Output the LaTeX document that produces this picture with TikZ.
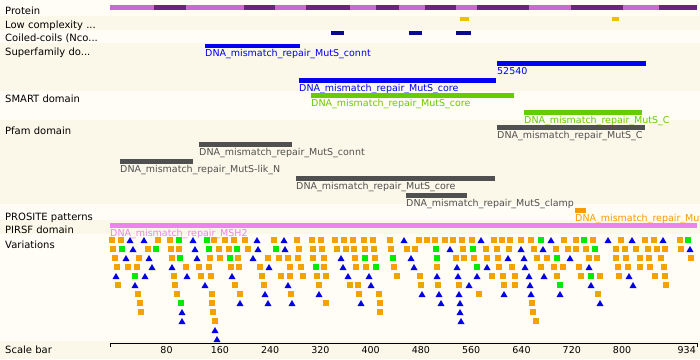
\documentclass[tikz,border=0pt]{standalone}
\usepackage{fontspec}
\setmainfont{DejaVu Sans}
\definecolor{bglight}{RGB}{255,253,246}
\definecolor{bgdark}{RGB}{252,248,233}
\definecolor{protlight}{RGB}{204,102,221}
\definecolor{protdark}{RGB}{102,36,136}
\definecolor{lowcx}{RGB}{240,192,0}
\definecolor{coil}{RGB}{10,10,140}
\definecolor{sfam}{RGB}{0,0,245}
\definecolor{smart}{RGB}{102,204,0}
\definecolor{pfam}{RGB}{80,80,80}
\definecolor{prosite}{RGB}{255,153,0}
\definecolor{pirsf}{RGB}{238,130,238}
\definecolor{varorange}{RGB}{242,163,0}
\definecolor{vargreen}{RGB}{0,235,0}
\definecolor{varblue}{RGB}{0,0,230}
\newcommand\DomBar[6]{%
  \fill[#5] (#2,#4) rectangle (#3,#4+4.5);
  \node[domlabel,text=#5] (#1) at (#2,#4+13) {#6};}
\begin{document}
\begin{tikzpicture}[x=1bp,y=-1bp,
  rowlabel/.style={anchor=base west,inner sep=0pt,font=\fontsize{10bp}{12bp}\selectfont,text=black},
  domlabel/.style={anchor=base west,inner sep=0pt,font=\fontsize{9.5bp}{11bp}\selectfont},
  scalelabel/.style={anchor=base west,inner sep=0pt,font=\fontsize{9.5bp}{11bp}\selectfont,text=black}]
\useasboundingbox (0,0) rectangle (700,359);
\clip (0,0) rectangle (700,359);
% background bands
\fill[bglight] (0,0) rectangle (700,16);
\fill[bgdark] (0,16) rectangle (700,30);
\fill[bglight] (0,30) rectangle (700,43);
\fill[bgdark] (0,43) rectangle (700,91);
\fill[bglight] (0,91) rectangle (700,120);
\fill[bgdark] (0,120) rectangle (700,204);
\fill[bglight] (0,204) rectangle (700,220);
\fill[bgdark] (0,220) rectangle (700,234);
\fill[bglight] (0,234) rectangle (700,341);
\fill[bgdark] (0,341) rectangle (700,359);
% row labels
\node[rowlabel] (lProt) at (5,14) {Protein};
\node[rowlabel] (lLow) at (5,28.5) {Low complexity ...};
\node[rowlabel] (lCoil) at (5,41.5) {Coiled-coils (Nco...};
\node[rowlabel] (lSup) at (5,55) {Superfamily do...};
\node[rowlabel] (lSmart) at (5,102.7) {SMART domain};
\node[rowlabel] (lPfam) at (5,134) {Pfam domain};
\node[rowlabel] (lPros) at (5,220) {PROSITE patterns};
\node[rowlabel] (lPirsf) at (5,233) {PIRSF domain};
\node[rowlabel] (lVar) at (5,248) {Variations};
\node[rowlabel] (lScale) at (5,353) {Scale bar};
% protein bar
\fill[protlight] (110,5) rectangle (697,9.5);
\foreach \a/\b in {154/186,244/275,306/350,376/399,425/456,477/529,571/623,659/697}
  {\fill[protdark] (\a,5) rectangle (\b,9.5);}
% low complexity
\fill[lowcx] (460,17) rectangle (469,21.3);
\fill[lowcx] (612,17) rectangle (619,21.3);
% coiled coils
\fill[coil] (331,31) rectangle (344,35.3);
\fill[coil] (409,31) rectangle (422,35.3);
\fill[coil] (456,31) rectangle (471,35.3);
% superfamily
\DomBar{sf1}{205}{300}{43.7}{sfam}{DNA\_mismatch\_repair\_MutS\_connt}
\DomBar{sf2}{497}{646}{61}{sfam}{52540}
\DomBar{sf3}{299}{496}{78}{sfam}{DNA\_mismatch\_repair\_MutS\_core}
% SMART
\DomBar{sm1}{311}{514}{93}{smart}{DNA\_mismatch\_repair\_MutS\_core}
\DomBar{sm2}{524}{642}{110}{smart}{DNA\_mismatch\_repair\_MutS\_C}
% Pfam
\DomBar{pf1}{497}{645}{125}{pfam}{DNA\_mismatch\_repair\_MutS\_C}
\DomBar{pf2}{199}{292}{142.3}{pfam}{DNA\_mismatch\_repair\_MutS\_connt}
\DomBar{pf3}{120}{193}{159.3}{pfam}{DNA\_mismatch\_repair\_MutS-lik\_N}
\DomBar{pf4}{296}{495}{176.3}{pfam}{DNA\_mismatch\_repair\_MutS\_core}
\DomBar{pf5}{406}{467}{193}{pfam}{DNA\_mismatch\_repair\_MutS\_clamp}
% PROSITE
\DomBar{ps1}{575}{586}{208}{prosite}{DNA\_mismatch\_repair\_MutS\_family}
% PIRSF
\DomBar{pi1}{110}{697}{223}{pirsf}{DNA\_mismatch\_repair\_MSH2}
% variations: row 1
\foreach \vx in {112,121,158,170,214,225,234,245,274,297,312,321,335,344,353,364,373,390,419,427,435,445,453,462,472,494,502,510,521,531,564,576,593,621,645,654,680}
  {\fill[varorange] (\vx-3,237) rectangle ++(6,6);}
\foreach \vx in {179,207,541,584,688}
  {\fill[vargreen] (\vx-3,237) rectangle ++(6,6);}
\foreach \vx in {130,144,193,257,284,404,481,551,608,632,663}
  {\fill[varblue] (\vx-3.5,243) -- (\vx+3.5,243) -- (\vx,237) -- cycle;}
% row 2
\foreach \vx in {113,148,171,179,219,229,248,299,313,322,337,346,354,365,374,391,407,415,463,486,497,509,534,556,568,576,586,616,625,636,648,657,665,681}
  {\fill[varorange] (\vx-3,246) rectangle ++(6,6);}
\foreach \vx in {122,156,209,237,276,436,473,595}
  {\fill[vargreen] (\vx-3,246) rectangle ++(6,6);}
\foreach \vx in {133,195,258,285,450,521,543,690}
  {\fill[varblue] (\vx-3.5,252) -- (\vx+3.5,252) -- (\vx,246) -- cycle;}
% row 3
\foreach \vx in {115,139,172,210,220,238,268,279,288,298,313,324,355,375,456,464,474,487,498,537,547,589,597,616,626,640,649,661,691}
  {\fill[varorange] (\vx-3,255) rectangle ++(6,6);}
\foreach \vx in {180,230,365,393,437,557}
  {\fill[vargreen] (\vx-3,255) rectangle ++(6,6);}
\foreach \vx in {126,149,197,253,341,411,508,524,570}
  {\fill[varblue] (\vx-3.5,261) -- (\vx+3.5,261) -- (\vx,255) -- cycle;}
% row 4
\foreach \vx in {117,128,137,186,199,209,231,239,260,290,301,324,356,366,394,437,499,512,541,554,563,579,618,628,640,650,664}
  {\fill[varorange] (\vx-3,264) rectangle ++(6,6);}
\foreach \vx in {316,376,477}
  {\fill[vargreen] (\vx-3,264) rectangle ++(6,6);}
\foreach \vx in {152,172,269,343,414,457,487,525,589}
  {\fill[varblue] (\vx-3.5,270) -- (\vx+3.5,270) -- (\vx,264) -- cycle;}
% row 5
\foreach \vx in {174,201,211,262,281,290,303,317,326,397,420,492,503,515,557,581,600,619,655,665}
  {\fill[varorange] (\vx-3,273) rectangle ++(6,6);}
\foreach \vx in {135,591}
  {\fill[vargreen] (\vx-3,273) rectangle ++(6,6);}
\foreach \vx in {116,145,187,232,348,369,437,458,477,529,544,629}
  {\fill[varblue] (\vx-3.5,279) -- (\vx+3.5,279) -- (\vx,273) -- cycle;}
% row 6
\foreach \vx in {118,175,235,264,319,350,358,421,438,459,504,515,666}
  {\fill[varorange] (\vx-3,282) rectangle ++(6,6);}
\fill[vargreen] (557,282) rectangle ++(6,6);
\foreach \vx in {135,205,288,371,469,530,591,633}
  {\fill[varblue] (\vx-3.5,288) -- (\vx+3.5,288) -- (\vx,282) -- cycle;}
% row 7
\foreach \vx in {138,177,212,240,291,359,379,479,598}
  {\fill[varorange] (\vx-3,291) rectangle ++(6,6);}
\foreach \vx in {265,319,422,439,459,504,531,560}
  {\fill[varblue] (\vx-3.5,297) -- (\vx+3.5,297) -- (\vx,291) -- cycle;}
% row 8
\foreach \vx in {140,212,326,380,532}
  {\fill[varorange] (\vx-3,300) rectangle ++(6,6);}
\fill[vargreen] (178,300) rectangle ++(6,6);
\foreach \vx in {240,268,292,361,441,460,600}
  {\fill[varblue] (\vx-3.5,306) -- (\vx+3.5,306) -- (\vx,300) -- cycle;}
% row 9
\foreach \vx in {141,213,380,533}
  {\fill[varorange] (\vx-3,309) rectangle ++(6,6);}
\foreach \vx in {182,460}
  {\fill[varblue] (\vx-3.5,315) -- (\vx+3.5,315) -- (\vx,309) -- cycle;}
% row 10
\foreach \vx in {215,536}
  {\fill[varorange] (\vx-3,318) rectangle ++(6,6);}
\foreach \vx in {182,461}
  {\fill[varblue] (\vx-3.5,324) -- (\vx+3.5,324) -- (\vx,318) -- cycle;}
% rows 11, 12
\fill[varblue] (211.5,333) -- (218.5,333) -- (215,327) -- cycle;
\fill[varblue] (213.5,342) -- (220.5,342) -- (217,336) -- cycle;
% scale bar
\coordinate (sb0) at (110,343);
\coordinate (sb1) at (697,343);
\draw[black,line width=1bp] (sb0) -- (sb1);
\draw[black,line width=1bp] (sb0) -- ++(0,4);
\draw[black,line width=1bp] (sb1) -- ++(0,4);
\foreach \v in {80,160,240,320,400,480,560,640,720,800}
  {\node[scalelabel] (s\v) at ({110+\v*0.62848},353) {\v};}
\node[scalelabel,anchor=base east] (s934) at (696,353) {934};
\end{tikzpicture}
\end{document}
